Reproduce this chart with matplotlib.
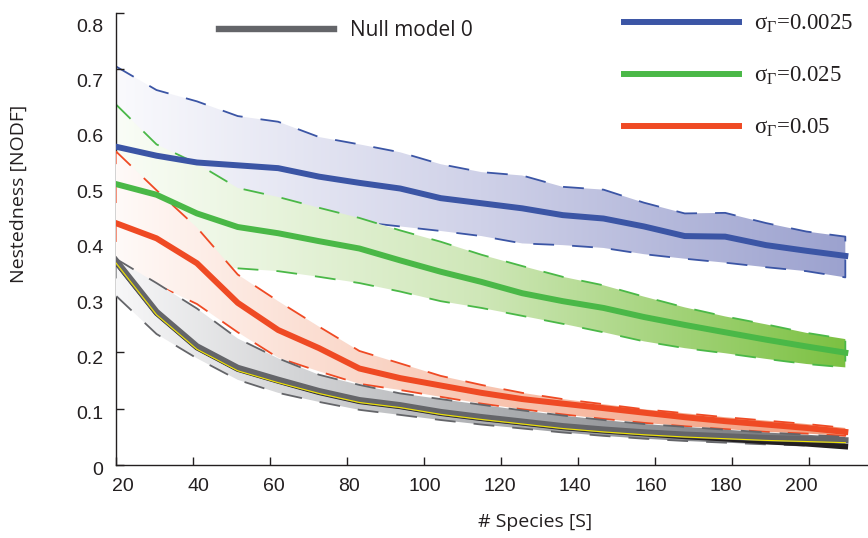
import numpy as np
import matplotlib
matplotlib.use("Agg")
import matplotlib.pyplot as plt
from matplotlib.colors import LinearSegmentedColormap
from matplotlib.patches import PathPatch
from matplotlib.transforms import ScaledTranslation

plt.rcParams['mathtext.fontset'] = 'custom'
plt.rcParams['mathtext.rm'] = 'Liberation Serif'
plt.rcParams['mathtext.it'] = 'Liberation Serif'
plt.rcParams['lines.scale_dashes'] = False

# species number (x) for every series
species = [20, 30.6, 41.1, 51.7, 62.2, 72.8, 83.3, 93.9, 104.4, 115, 125.6, 136.1,
           146.7, 157.2, 167.8, 178.3, 188.9, 199.4, 209.5]

# sigma_Gamma = 0.0025
blue_mean = [0.563, 0.547, 0.535, 0.530, 0.525, 0.510, 0.499, 0.489, 0.472, 0.463, 0.454,
             0.442, 0.436, 0.422, 0.405, 0.404, 0.389, 0.379, 0.370]
blue_hi = [0.705, 0.663, 0.643, 0.617, 0.607, 0.580, 0.567, 0.553, 0.532, 0.518, 0.512,
           0.492, 0.487, 0.464, 0.445, 0.446, 0.428, 0.413, 0.404]
blue_lo = [0.450, 0.450, 0.450, 0.440, 0.440, 0.435, 0.430, 0.422, 0.414, 0.405, 0.392,
           0.389, 0.384, 0.373, 0.365, 0.358, 0.350, 0.343, 0.332]

# sigma_Gamma = 0.025
green_mean = [0.497, 0.478, 0.445, 0.421, 0.410, 0.396, 0.383, 0.362, 0.342, 0.324, 0.304,
              0.290, 0.278, 0.262, 0.248, 0.235, 0.222, 0.210, 0.199]
green_hi = [0.638, 0.567, 0.533, 0.490, 0.474, 0.455, 0.437, 0.415, 0.395, 0.372, 0.352,
            0.333, 0.318, 0.298, 0.279, 0.263, 0.249, 0.234, 0.223]
green_lo = [0.360, 0.356, 0.352, 0.348, 0.343, 0.333, 0.322, 0.307, 0.290, 0.278, 0.264,
            0.250, 0.235, 0.219, 0.207, 0.198, 0.188, 0.179, 0.173]

# sigma_Gamma = 0.05
red_mean = [0.428, 0.401, 0.357, 0.287, 0.239, 0.207, 0.171, 0.154, 0.141, 0.128, 0.117,
            0.109, 0.101, 0.093, 0.085, 0.078, 0.072, 0.066, 0.059]
red_hi = [0.555, 0.486, 0.420, 0.337, 0.290, 0.245, 0.202, 0.180, 0.158, 0.142, 0.128,
          0.117, 0.108, 0.099, 0.092, 0.085, 0.079, 0.073, 0.066]
red_lo = [0.297, 0.319, 0.285, 0.235, 0.190, 0.166, 0.144, 0.133, 0.121, 0.109, 0.099,
          0.090, 0.082, 0.075, 0.069, 0.064, 0.059, 0.056, 0.052]

# null model 0
gray_mean = [0.362, 0.271, 0.210, 0.172, 0.151, 0.131, 0.115, 0.106, 0.094, 0.085, 0.077,
             0.069, 0.063, 0.058, 0.054, 0.051, 0.048, 0.046, 0.044]
gray_hi = [0.365, 0.322, 0.277, 0.224, 0.189, 0.160, 0.142, 0.127, 0.117, 0.107, 0.097,
           0.088, 0.080, 0.073, 0.068, 0.063, 0.058, 0.054, 0.050]
gray_lo = [0.300, 0.232, 0.189, 0.151, 0.128, 0.112, 0.098, 0.089, 0.080, 0.072, 0.065,
           0.058, 0.052, 0.047, 0.043, 0.040, 0.037, 0.035, 0.032]
yellow_line = [0.358, 0.266, 0.205, 0.167, 0.146, 0.127, 0.111, 0.102, 0.090, 0.081, 0.073,
               0.065, 0.059, 0.054, 0.050, 0.047, 0.044, 0.042, 0.040]
black_line = [0.360, 0.269, 0.208, 0.170, 0.149, 0.129, 0.113, 0.104, 0.092, 0.083, 0.075,
              0.067, 0.061, 0.056, 0.051, 0.047, 0.042, 0.038, 0.033]

xticks = [20, 40, 60, 80, 100, 120, 140, 160, 180, 200]
yticks = [0, 0.1, 0.2, 0.3, 0.4, 0.5, 0.6, 0.7, 0.8]
ytick_labels = ['0', '0.1', '0.2', '0.3', '0.4', '0.5', '0.6', '0.7', '0.8']

W, H = 868, 538
fig = plt.figure(figsize=(W / 100, H / 100), dpi=100)
ax = fig.add_axes([115.7 / W, 1 - 465.3 / H, 750.8 / W, 452.8 / H])


def band(x, lo, hi, cols, edge, z):
    poly = ax.fill_between(x, lo, hi, facecolor='none', edgecolor='none')
    patch = PathPatch(poly.get_paths()[0], facecolor='none', edgecolor='none',
                      transform=ax.transData)
    ax.add_patch(patch)
    cmap = LinearSegmentedColormap.from_list('g', cols)
    img = ax.imshow(np.linspace(0, 1, 256).reshape(1, -1), cmap=cmap, aspect='auto',
                    extent=[x[0], x[-1], 0, 0.8], origin='lower', zorder=z,
                    interpolation='bilinear')
    img.set_clip_path(patch)
    xs = list(x) + list(x[::-1]) + [x[0]]
    ys = list(hi) + list(lo[::-1]) + [hi[0]]
    ax.plot(xs, ys, color=edge, lw=1.3, dashes=(15, 13), zorder=z + 0.1)


band(species, blue_lo, blue_hi, ['#FAFAFD', '#CFD1E8', '#9CA2CF'], '#3B55A5', 1)
band(species, green_lo, green_hi, ['#FAFDF7', '#CFE7B8', '#7CC142'], '#4AB847', 2)
band(species, red_lo, red_hi, ['#FFFAF8', '#F8C6B2', '#F29C7C'], '#EF4A24', 3)
band(species, gray_lo, gray_hi, ['#F7F7F8', '#AFB1B4', '#6E7074'], '#646569', 4)

l_blue, = ax.plot(species, blue_mean, color='#3B55A5', lw=4.3, zorder=10,
                  label=r'$\sigma_\Gamma$=0.0025')
l_green, = ax.plot(species, green_mean, color='#4AB847', lw=4.3, zorder=10,
                   label=r'$\sigma_\Gamma$=0.025')
l_red, = ax.plot(species, red_mean, color='#EF4A24', lw=4.3, zorder=10,
                 label=r'$\sigma_\Gamma$=0.05')
ax.plot(species, black_line, color='#231F20', lw=4, zorder=10.5)
l_gray, = ax.plot(species, gray_mean, color='#646569', lw=4.6, zorder=11,
                  label='Null model 0')
ax.plot(species, yellow_line, color='#F2E500', lw=0.8, zorder=11.5)

ax.set_xlim(20, 215)
ax.set_ylim(0, 0.8)
ax.set_xticks(xticks)
ax.set_yticks(yticks)
ax.set_yticklabels(ytick_labels)
for s in ['top', 'right']:
    ax.spines[s].set_visible(False)
for s in ['left', 'bottom']:
    ax.spines[s].set_linewidth(1.0)
    ax.spines[s].set_color('#231F20')
ax.tick_params(direction='in', length=6, width=1, colors='#231F20', labelsize=14, pad=9)
for lab in ax.get_xticklabels() + ax.get_yticklabels():
    lab.set_family('Liberation Sans')

# labels in the original sit slightly off their ticks
for i, lab in enumerate(ax.get_yticklabels()):
    lab.set_transform(lab.get_transform() +
                      ScaledTranslation(0, -(3 + 1.2 * i) / 100, fig.dpi_scale_trans))
for i, lab in enumerate(ax.get_xticklabels()):
    lab.set_transform(lab.get_transform() +
                      ScaledTranslation((7 - 1.6 * i) / 100, 0, fig.dpi_scale_trans))

ax.set_xlabel('# Species [S]', fontsize=14, family='Open Sans', color='#231F20')
ax.xaxis.label.set_va('center')
ax.xaxis.set_label_coords(0.5585, -0.125)
ax.set_ylabel('Nestedness [NODF]', fontsize=14, family='Open Sans', color='#231F20')
ax.yaxis.label.set_va('center')
ax.yaxis.set_label_coords(-0.129, 0.599)

leg1 = ax.legend(handles=[l_blue, l_green, l_red], loc='upper left',
                 bbox_to_anchor=(624 / W, 1 - 13 / H), bbox_transform=fig.transFigure,
                 frameon=False, borderpad=0, borderaxespad=0, handlelength=5.02,
                 handletextpad=0.66, labelspacing=1.3,
                 prop={'family': 'Liberation Serif', 'size': 16.5})
for t in leg1.get_texts():
    t.set_color('#231F20')
ax.add_artist(leg1)
leg2 = ax.legend(handles=[l_gray], loc='upper left',
                 bbox_to_anchor=(219 / W, 1 - 20 / H), bbox_transform=fig.transFigure,
                 frameon=False, borderpad=0, borderaxespad=0, handlelength=5.5,
                 handletextpad=0.8, prop={'family': 'Open Sans', 'size': 15})
for t in leg2.get_texts():
    t.set_color('#231F20')

fig.savefig('out.png', dpi=100)
